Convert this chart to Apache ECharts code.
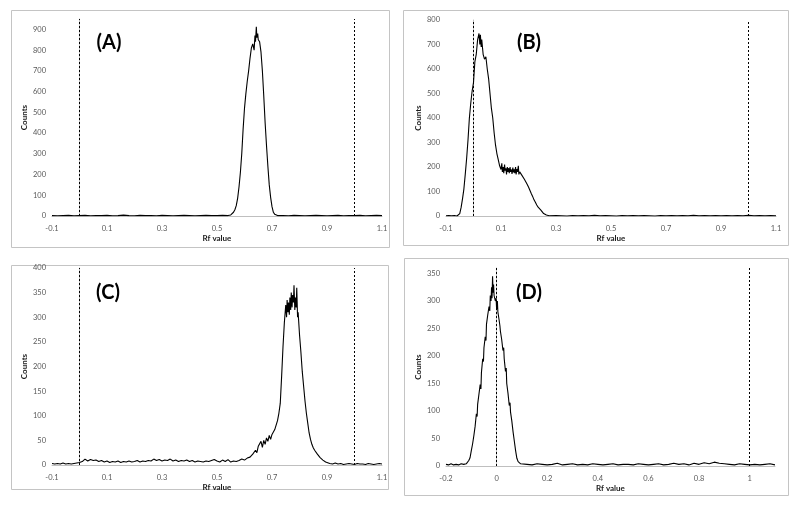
<!DOCTYPE html>
<html>
<head>
<meta charset="utf-8">
<script src="https://cdn.jsdelivr.net/npm/echarts@6/dist/echarts.min.js"></script>
<style>html,body{margin:0;padding:0;background:#fff;}#main{width:800px;height:509px;}</style>
</head>
<body>
<div id="main"></div>
<script>
// ---------- DATA ----------
const panelLabels = ['(A)', '(B)', '(C)', '(D)'];
const xAxisName = 'Rf value';
const yAxisName = 'Counts';
const markerRf = [0, 1];

const rfA = [-0.10,-0.08,-0.06,-0.04,-0.02,0.00,0.02,0.04,0.06,0.08,0.10,0.12,0.14,0.16,0.18,0.20,0.22,0.24,0.26,0.28,0.30,0.32,0.34,0.36,0.38,0.40,0.42,0.44,0.46,0.48,0.50,0.52,
0.540,0.545,0.550,0.555,0.560,0.565,0.570,0.575,0.580,0.585,0.590,0.595,0.600,0.605,0.610,0.615,0.620,0.625,0.630,0.635,
0.638,0.640,0.643,0.645,0.648,0.650,
0.655,0.660,0.665,0.670,0.675,0.680,0.685,0.690,0.695,0.700,0.705,0.710,0.715,0.720,
0.74,0.76,0.78,0.80,0.82,0.84,0.86,0.88,0.90,0.92,0.94,0.96,0.98,1.00,1.02,1.04,1.06,1.08,1.10];
const countsA = [2,1,2,3,1,2,3,1,2,2,3,1,2,4,2,1,3,2,2,1,3,2,1,2,3,2,1,2,3,2,2,3,
2,3,5,10,18,30,50,85,140,210,300,420,520,590,650,700,760,810,830,800,
870,840,912,860,880,850,
840,790,700,580,450,340,240,150,90,45,18,8,4,2,
2,1,3,2,1,2,3,2,1,2,3,1,2,2,3,1,2,3,2];

const rfB = [-0.10,-0.09,-0.08,-0.07,
-0.060,-0.055,-0.050,-0.045,-0.040,-0.035,-0.030,-0.025,-0.020,-0.015,-0.010,-0.005,0.000,0.005,0.010,0.015,0.020,0.023,0.025,0.028,0.030,
0.035,0.040,0.045,0.050,0.055,0.060,0.065,0.070,0.075,0.080,0.085,0.090,0.095,0.100,
0.103,0.105,0.108,0.110,0.113,0.115,0.118,0.120,0.123,0.125,0.128,0.130,0.133,0.135,0.138,0.140,0.143,0.145,0.148,0.150,0.153,0.155,0.158,0.160,0.163,0.165,0.168,
0.170,0.175,0.180,0.185,0.190,0.195,0.200,0.205,0.210,0.215,0.220,0.225,0.230,0.235,0.240,0.245,0.250,0.255,0.260,0.265,0.270,0.275,
0.28,0.30,0.32,0.34,0.36,0.38,0.40,0.42,0.44,0.46,0.48,0.50,0.52,0.54,0.56,0.58,0.60,0.62,0.64,0.66,0.68,0.70,0.72,0.74,0.76,0.78,0.80,0.82,0.84,0.86,0.88,0.90,0.92,0.94,0.96,0.98,1.00,1.02,1.04,1.06,1.08,1.10];
const countsB = [1,2,1,2,
0,2,10,35,70,110,170,235,310,400,460,510,545,630,660,720,745,700,740,690,720,
660,640,650,600,560,500,440,400,340,290,255,230,205,190,
215,180,200,175,210,185,195,170,200,180,195,175,200,180,190,172,198,178,190,175,200,170,192,180,205,170,180,
172,168,160,150,140,130,118,105,92,80,66,56,45,36,32,24,16,10,6,4,2,1,
1,2,1,0,2,1,2,1,3,1,2,1,0,2,1,2,1,2,1,0,2,1,2,1,2,1,3,1,2,1,2,1,2,1,2,1,3,1,2,1,2,1];

const rfC = [-0.10,-0.09,-0.08,-0.07,-0.06,-0.05,-0.04,-0.03,-0.02,-0.01,
0.00,0.01,0.02,0.03,0.04,0.05,0.06,0.07,0.08,0.09,0.10,0.11,0.12,0.13,0.14,0.15,0.16,0.17,0.18,0.19,
0.20,0.21,0.22,0.23,0.24,0.25,0.26,0.27,0.28,0.29,0.30,0.31,0.32,0.33,0.34,0.35,0.36,0.37,0.38,0.39,
0.40,0.41,0.42,0.43,0.44,0.45,0.46,0.47,0.48,0.49,0.50,0.51,0.52,0.53,0.54,0.55,0.56,0.57,0.58,0.59,
0.600,0.605,0.610,0.615,0.620,0.625,0.630,0.635,0.640,0.645,0.650,0.655,0.660,0.665,0.670,0.675,0.680,0.685,0.690,0.695,
0.700,0.705,0.710,0.715,0.720,0.725,0.730,0.735,0.740,0.745,0.750,0.753,0.755,0.758,0.760,0.763,0.765,0.768,0.770,0.773,
0.775,0.778,0.780,0.783,0.785,0.788,0.790,0.793,0.795,0.800,0.805,0.810,0.815,0.820,0.825,0.830,0.835,0.840,0.845,0.850,
0.855,0.860,0.865,0.870,0.875,0.880,0.885,0.890,0.895,0.900,
0.91,0.92,0.93,0.94,0.95,0.96,0.97,0.98,0.99,1.00,1.01,1.02,1.03,1.04,1.05,1.06,1.07,1.08,1.09,1.10];
const countsC = [3,2,3,2,4,2,3,2,3,4,
5,7,12,8,11,9,10,7,9,6,8,5,7,6,8,5,7,6,8,6,
7,9,6,8,7,9,8,12,9,11,8,10,9,12,8,10,7,9,8,10,
7,9,6,8,7,6,8,7,9,11,8,6,10,7,11,6,8,7,9,12,
10,8,14,10,16,13,22,18,30,25,38,40,48,36,50,42,55,48,60,52,
62,58,72,68,90,105,125,180,240,290,325,300,335,310,330,305,340,315,350,320,
345,330,365,315,340,320,360,300,310,265,230,190,160,130,105,85,65,52,42,35,
30,28,22,20,15,14,10,9,6,5,
3,2,4,2,3,1,2,3,2,1,3,2,2,1,3,2,1,2,3,2];

const rfD = [-0.20,-0.19,-0.18,-0.17,-0.16,-0.15,-0.14,-0.13,
-0.125,-0.120,-0.115,-0.110,-0.105,-0.100,-0.095,-0.090,-0.085,-0.080,-0.077,-0.075,-0.070,-0.065,-0.062,-0.060,-0.055,-0.052,-0.050,-0.045,-0.042,-0.040,
-0.035,-0.030,-0.027,-0.025,-0.022,-0.020,-0.018,-0.016,-0.014,-0.012,-0.010,-0.005,-0.002,0.000,0.003,0.005,0.010,0.013,0.015,0.020,
0.025,0.028,0.030,0.035,0.038,0.040,0.045,0.050,0.053,0.055,0.060,0.065,0.070,0.075,0.080,0.085,0.090,0.095,0.100,
0.12,0.14,0.16,0.18,0.20,0.22,0.24,0.26,0.28,0.30,0.32,0.34,0.36,0.38,0.40,0.42,0.44,0.46,0.48,0.50,0.52,0.54,0.56,0.58,0.60,
0.62,0.64,0.66,0.68,0.70,0.72,0.74,0.76,0.78,0.80,0.82,0.84,0.86,0.88,0.90,0.92,0.94,0.96,0.98,1.00,1.02,1.04,1.06,1.08,1.10];
const countsD = [3,2,4,2,3,2,4,3,
2,4,6,10,15,28,40,55,72,95,90,112,130,148,140,170,195,190,215,235,228,258,
275,290,282,310,300,325,305,345,315,330,310,300,305,285,300,280,265,255,245,230,
210,215,195,172,178,150,132,110,115,98,82,62,45,28,14,8,5,4,3,
3,2,4,3,2,3,5,2,3,4,2,3,2,4,3,2,3,4,2,3,3,2,4,3,2,
3,4,2,3,5,3,4,2,5,3,6,4,7,5,4,3,2,4,3,2,3,2,3,4,2];

// ---------- CHART ----------
const zip = (xs, ys) => xs.map((x, i) => [x, ys[i]]);
const panels = [
  {rf: rfA, counts: countsA, xmin: -0.1, ymax: 950, yint: 100, grid: {left: 52, top: 19, width: 330, height: 197}, box: [11, 10, 378, 237], label: [109, 43]},
  {rf: rfB, counts: countsB, xmin: -0.1, ymax: 800, yint: 100, grid: {left: 446, top: 20, width: 330, height: 196}, box: [403, 10, 385, 235], label: [529, 43]},
  {rf: rfC, counts: countsC, xmin: -0.1, ymax: 400, yint: 50, grid: {left: 52, top: 268, width: 330, height: 197}, box: [11, 265, 377, 224], label: [108, 293]},
  {rf: rfD, counts: countsD, xmin: -0.2, ymax: 360, yint: 50, grid: {left: 446, top: 268, width: 329, height: 198}, box: [404, 258, 384, 237], label: [529, 293]}
];

const labelFont = 'Lato, "Open Sans", sans-serif';
const grids = [], xAxes = [], yAxes = [], series = [], graphics = [];
panels.forEach((p, i) => {
  grids.push(Object.assign({containLabel: false}, p.grid));
  const isD = i === 3;
  xAxes.push({
    type: 'value', gridIndex: i, min: p.xmin, max: 1.1,
    interval: isD ? 0.2 : 0.1,
    name: xAxisName, nameLocation: 'middle', nameGap: 18,
    nameTextStyle: {fontFamily: labelFont, fontWeight: 'bold', fontSize: 8, color: '#1a1a1a'},
    axisLine: {show: true, onZero: false, lineStyle: {color: '#bfbfbf', width: 1}},
    axisTick: {show: false},
    splitLine: {show: false},
    axisLabel: {
      fontFamily: labelFont, fontSize: 7.5, color: '#595959', margin: 9,
      showMaxLabel: !isD,
      formatter: isD
        ? (v) => String(Math.round(v * 10) / 10)
        : (v) => (Math.round(v * 10) % 2 !== 0 ? (Math.round(v * 10) / 10).toFixed(1) : '')
    }
  });
  yAxes.push({
    type: 'value', gridIndex: i, min: 0, max: p.ymax, interval: p.yint,
    name: yAxisName, nameLocation: 'middle', nameGap: 24,
    nameTextStyle: {fontFamily: labelFont, fontWeight: 'bold', fontSize: 8, color: '#1a1a1a'},
    axisLine: {show: true, lineStyle: {color: '#bfbfbf', width: 1}},
    axisTick: {show: false},
    splitLine: {show: false},
    axisLabel: {fontFamily: labelFont, fontSize: 7.5, color: '#595959', margin: 6, showMaxLabel: p.ymax % p.yint === 0}
  });
  series.push({
    type: 'line', xAxisIndex: i, yAxisIndex: i,
    data: zip(p.rf, p.counts),
    showSymbol: false, symbol: 'none', animation: false,
    lineStyle: {color: '#000', width: 1.1},
    markLine: {
      silent: true, symbol: ['none', 'none'], animation: false,
      label: {show: false},
      lineStyle: {color: '#000', width: 1, type: [2, 2]},
      data: markerRf.map(v => ({xAxis: v}))
    }
  });
  graphics.push({
    type: 'rect', silent: true,
    shape: {x: p.box[0] + 0.5, y: p.box[1] + 0.5, width: p.box[2], height: p.box[3]},
    style: {fill: 'none', stroke: '#c4c4c4', lineWidth: 1}
  });
  graphics.push({
    type: 'text', silent: true, x: p.label[0], y: p.label[1],
    style: {text: panelLabels[i], fontFamily: labelFont, fontWeight: 'bold', fontSize: 20, fill: '#000', align: 'center', verticalAlign: 'middle'}
  });
});

const chart = echarts.init(document.getElementById('main'), null, {renderer: 'canvas'});
chart.setOption({
  backgroundColor: '#fff',
  animation: false,
  grid: grids, xAxis: xAxes, yAxis: yAxes, series: series,
  graphic: graphics
});
</script>
</body>
</html>
